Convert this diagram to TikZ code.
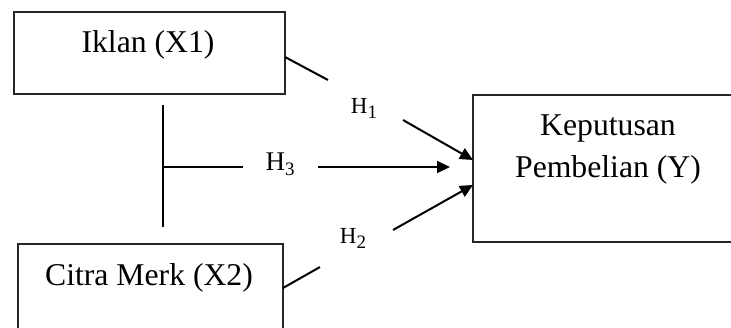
\documentclass[tikz,border=0pt]{standalone}
\usepackage{fontspec}
\setmainfont{Liberation Serif}
\usetikzlibrary{arrows.meta}
\newcommand{\hyp}[3]{{\fontsize{#2}{#2}\selectfont H\raisebox{-0.22em}{\fontsize{#3}{#3}\selectfont #1}}}
\begin{document}
\begin{tikzpicture}[x=1pt,y=-1pt,
  box/.style={draw=black!85,line width=1.3pt},
  hbox/.style={fill=white},
  conn/.style={line width=2pt},
  arr/.style={conn,-{Triangle[length=13pt,width=12pt]}},
  bigtxt/.style={font=\fontsize{31.7}{38}\selectfont,inner sep=0pt,anchor=base},
  htxt/.style={inner sep=0pt,anchor=base}]
\clip (0,0) rectangle (731,327);
\useasboundingbox (0,0) rectangle (731,327);
% boxes
\draw[box] (14,12) rectangle (285,94);
\node[bigtxt] (iklan) at (148,52) {Iklan (X1)};
\draw[box] (18,244) rectangle (283,340);
\node[bigtxt] (citra) at (149,285) {Citra Merk (X2)};
\draw[box] (473,95) rectangle (740,242);
\node[bigtxt] (kep1) at (608,135) {Keputusan};
\node[bigtxt] (kep2) at (608,177) {Pembelian (Y)};
% hypothesis label boxes
\fill[hbox] (328,73) rectangle (403,137);
\node[htxt] (h1) at (364,113) {\hyp{1}{23}{19}};
\fill[hbox] (243,133) rectangle (318,197);
\node[htxt] (h3) at (280,170) {\hyp{3}{27}{19}};
\fill[hbox] (317,198) rectangle (392,265);
\node[htxt] (h2) at (353,243) {\hyp{2}{23}{19}};
% coordinates
\coordinate (a1) at (285,57);
\coordinate (a2) at (328,80);
\coordinate (b1) at (403,120);
\coordinate (b2) at (473,160);
\coordinate (v1) at (163,105);
\coordinate (v2) at (163,227);
\coordinate (vm) at (163,167);
\coordinate (c1) at (243,167);
\coordinate (c2) at (318,167);
\coordinate (c3) at (450,167);
\coordinate (d1) at (283,288);
\coordinate (d2) at (320,267);
\coordinate (e1) at (393,230);
\coordinate (e2) at (473,185);
% connectors
\draw[conn] (a1) -- (a2);
\draw[arr] (b1) -- (b2);
\draw[conn] (v1) -- (v2);
\draw[conn] (vm) -- (c1);
\draw[arr] (c2) -- (c3);
\draw[conn] (d1) -- (d2);
\draw[arr] (e1) -- (e2);
\end{tikzpicture}
\end{document}
